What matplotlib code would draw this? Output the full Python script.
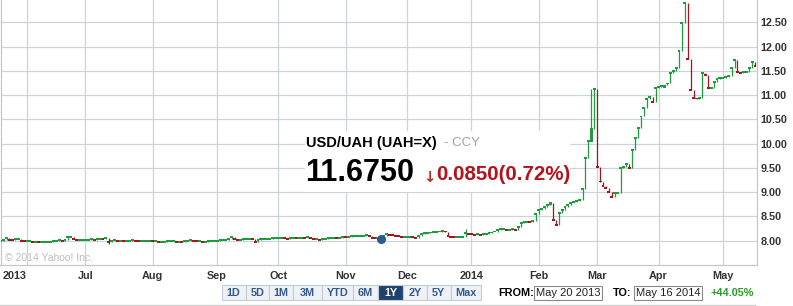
import matplotlib
matplotlib.use("Agg")
import matplotlib.pyplot as plt
from matplotlib.patches import Rectangle
import numpy as np
import pandas as pd

plt.rcParams['font.family'] = ['Liberation Sans', 'DejaVu Sans']

W, H = 793, 306

# daily closes (business days)
close_may13 = [8.00, 8.00, 8.01, 8.06, 8.02, 8.01, 8.03, 8.04, 8.00, 7.99]
close_jun13 = [7.99, 7.99, 7.98, 7.98, 7.97, 7.97, 7.97, 7.97, 7.98, 8.00,
               8.00, 8.01, 8.00, 8.01, 8.07, 8.07, 8.03, 8.02, 8.02, 8.02]
close_jul13 = [8.02, 8.02, 8.03, 8.02, 8.04, 8.04, 8.03, 8.05, 7.98, 8.00, 8.01, 8.00,
               8.00, 7.99, 8.00, 8.00, 8.01, 8.00, 7.99, 8.00, 8.00, 8.00, 8.00]
close_aug13 = [7.99, 8.00, 7.98, 7.98, 7.98, 7.99, 7.99, 7.99, 7.98, 7.98, 7.97,
               7.99, 8.00, 8.01, 8.00, 7.99, 7.99, 7.98, 7.98, 7.99, 8.00, 8.00]
close_sep13 = [8.00, 8.01, 8.02, 8.02, 8.03, 8.08, 8.03, 8.02, 8.02, 8.03, 8.04,
               8.04, 8.03, 7.98, 8.02, 8.03, 8.03, 8.04, 8.04, 8.05, 8.05]
close_oct13 = [8.05, 8.06, 8.05, 8.04, 8.05, 8.06, 8.05, 8.05, 8.06, 8.05, 8.07, 8.06,
               8.04, 8.04, 8.01, 8.03, 8.04, 8.05, 8.05, 8.06, 8.05, 8.06, 8.08]
close_nov13 = [8.07, 8.08, 8.09, 8.09, 8.09, 8.10, 8.10, 8.11, 8.09, 8.06, 8.05,
               8.05, 8.04, 8.10, 8.13, 8.12, 8.11, 8.10, 8.09, 8.08, 8.08]
close_dec13 = [8.08, 8.08, 8.07, 8.06, 8.10, 8.14, 8.15, 8.16, 8.17, 8.18, 8.18,
               8.19, 8.20, 8.19, 8.09, 8.08, 8.07, 8.07, 8.07, 8.08, 8.15, 8.14]
close_jan14 = [8.13, 8.12, 8.13, 8.12, 8.13, 8.14, 8.15, 8.17, 8.19, 8.22, 8.24, 8.24,
               8.23, 8.23, 8.24, 8.23, 8.29, 8.36, 8.38, 8.39, 8.38, 8.40, 8.56]
close_feb14 = [8.63, 8.66, 8.70, 8.74, 8.78, 8.43, 8.33, 8.57, 8.63, 8.69,
               8.74, 8.77, 8.80, 8.82, 8.84, 9.06, 9.70, 10.05, 10.30, 11.12]
close_mar14 = [9.52, 9.22, 9.13, 9.09, 9.01, 8.91, 8.98, 8.99, 9.50, 9.52, 9.59,
               9.50, 9.87, 10.12, 10.32, 10.56, 10.73, 10.92, 10.97, 10.86, 11.15]
close_apr14 = [11.16, 11.18, 11.21, 11.24, 11.45, 11.50, 11.55, 11.90, 12.48, 12.90, 11.74,
               11.10, 10.94, 10.93, 10.94, 11.45, 11.41, 11.15, 11.15, 11.28, 11.33, 11.35]
close_may14 = [11.35, 11.37, 11.39, 11.55, 11.72, 11.48, 11.46, 11.47, 11.48, 11.55, 11.69, 11.60]

# intraday extremes / larger bodies that stick out
wick_high = {160: 8.24, 203: 11.13}
wick_low = {38: 7.93}
big_body = {189: (8.74, 8.80), 203: (10.03, 10.32), 228: (11.15, 11.21)}
event_day = 131

yticks = [8.0, 8.5, 9.0, 9.5, 10.0, 10.5, 11.0, 11.5, 12.0, 12.5]
buttons = ['1D', '5D', '1M', '3M', 'YTD', '6M', '1Y', '2Y', '5Y', 'Max']
selected = '1Y'

closes = np.array(close_may13 + close_jun13 + close_jul13 + close_aug13 + close_sep13 +
                  close_oct13 + close_nov13 + close_dec13 + close_jan14 + close_feb14 +
                  close_mar14 + close_apr14 + close_may14)
dates = pd.bdate_range('2013-05-20', '2014-05-16')
idx = np.arange(len(dates))

GREEN = '#1f9a3c'
RED = '#a3151f'
GRID = '#cbd3db'

fig = plt.figure(figsize=(W / 100, H / 100), dpi=100)
ax = fig.add_axes([0.5 / W, 41 / H, 756 / W, 1 - 41 / H])

prev = np.concatenate([[closes[0]], closes[:-1]])
for i in idx:
    c, p = closes[i], prev[i]
    col = GREEN if c >= p else RED
    lo = min(c, p, wick_low.get(i, c))
    hi = max(c, p, wick_high.get(i, c))
    ax.vlines(i, lo, hi, color=col, lw=0.9, zorder=3)
    if i in big_body:
        b0, b1 = big_body[i]
    else:
        b0, b1 = c - 0.02, c + 0.02
    ax.bar(i, b1 - b0, bottom=b0, width=1.0, color=col, lw=0, zorder=4)

ax.plot(event_day, closes[event_day], 'o', color='#2b5b91', ms=5.5, zorder=6)

ax.set_xlim(0.94, 259.5)
ax.set_ylim(7.50, 12.96)

# month grid: first business day of each month
month_first = dates.to_series().groupby(dates.to_period('M')).head(1).index[1:]
pos = [dates.get_loc(d) for d in month_first]
labels = [str(d.year) if (d.year, d.month) in [(2013, 6), (2014, 1)] else d.strftime('%b')
          for d in month_first]
ax.set_xticks(pos)
ax.set_xticklabels(labels, fontsize=7.8, fontweight='bold', color='#333333')
ax.get_xticklabels()[0].set_ha('right')
ax.set_yticks(yticks)
ax.set_yticklabels(['%.2f' % v for v in yticks], fontsize=7.8, fontweight='bold', color='#333333')
ax.yaxis.tick_right()
ax.tick_params(length=0, pad=3)
ax.tick_params(axis='x', pad=4)
ax.grid(True, color=GRID, lw=0.9, zorder=0)
ax.set_axisbelow(True)
for s in ['left', 'right', 'bottom']:
    ax.spines[s].set_color('#c0c8d0')
    ax.spines[s].set_linewidth(0.9)
ax.spines['top'].set_visible(False)


def fx(x):
    return x / W


def fy(y):
    return 1 - y / H


# white panel behind the quote
panel = Rectangle((fx(305), fy(192)), fx(570) - fx(305), fy(131) - fy(192),
                  facecolor='white', edgecolor='none', zorder=2)
ax.add_artist(panel)
panel.set_transform(fig.transFigure)

fig.text(fx(306), fy(143), 'USD/UAH (UAH=X)', fontsize=10.5, fontweight='bold',
         color='black', va='center', zorder=10)
fig.text(fx(444), fy(143), '- CCY', fontsize=9.5, color='#a0a0a0', va='center')
fig.text(fx(305), fy(173), '11.6750', fontsize=22, fontweight='bold', color='black', va='center')
fig.text(fx(423), fy(177), '\u2193', fontsize=10.5, fontweight='bold', color='#c0281c', va='center',
         family=['DejaVu Sans'])
fig.text(fx(436), fy(175), '0.0850(0.72%)', fontsize=14.8, fontweight='bold', color='#b3141c',
         va='center')
fig.text(fx(5), fy(258), '\u00a9 2014 Yahoo! Inc.', fontsize=7.5, color='#bdbdbd', va='center')

# range buttons
edges = [221.7, 245.7, 269.3, 293.3, 321.7, 352.7, 378.3, 403.3, 426.7, 450.7, 480.7]
for k, lab in enumerate(buttons):
    x0, x1 = edges[k], edges[k + 1]
    on = lab == selected
    fig.patches.append(Rectangle((fx(x0), fy(300)), fx(x1) - fx(x0), fy(284.5) - fy(300),
                                 transform=fig.transFigure,
                                 facecolor='#1e416f' if on else '#eef2f6',
                                 edgecolor='#c3ccd6', lw=0.8))
    fig.text(fx((x0 + x1) / 2), fy(292.5), lab, fontsize=7.8, fontweight='bold',
             color='white' if on else '#34598a', ha='center', va='center')

fig.text(fx(498), fy(292.5), 'FROM:', fontsize=7.8, fontweight='bold', color='black', va='center')
fig.text(fx(613), fy(292.5), 'TO:', fontsize=7.8, fontweight='bold', color='black', va='center')
for x0, x1, txt in [(534.3, 601.7, 'May 20 2013'), (634.3, 701.7, 'May 16 2014')]:
    fig.patches.append(Rectangle((fx(x0), fy(299.7)), fx(x1) - fx(x0), fy(285.7) - fy(299.7),
                                 transform=fig.transFigure, facecolor='white',
                                 edgecolor='#8a8a8a', lw=0.8))
    fig.text(fx((x0 + x1) / 2), fy(292.7), txt, fontsize=8, color='#222222',
             ha='center', va='center')
fig.text(fx(754), fy(292.5), '+44.05%', fontsize=7.8, fontweight='bold', color='#2a9a2a',
         ha='right', va='center')
fig.lines.append(plt.Line2D([0, fx(755)], [fy(305), fy(305)], transform=fig.transFigure,
                            color='#d0d0d0', lw=1.0))

fig.savefig('out.png', dpi=100)
